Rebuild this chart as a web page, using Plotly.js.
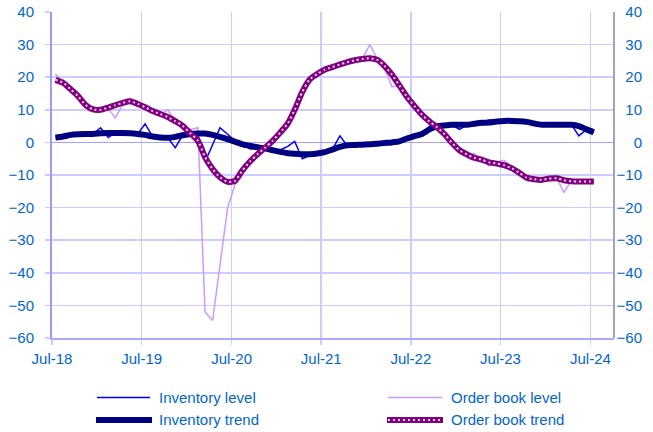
<!DOCTYPE html>
<html>
<head>
<meta charset="utf-8">
<script src="https://cdn.plot.ly/plotly-3.0.1.min.js"></script>
<style>html,body{margin:0;padding:0;background:#fff;}#chart{width:653px;height:432px;}</style>
</head>
<body>
<div id="chart"></div>
<script>
// Monthly observations, Jul-2018 .. Jul-2024 (plotted mid-month)
const startYear = 2018, startMonth = 7, nMonths = 73;
const months = [];
for (let i = 0; i < nMonths; i++) {
  const y = startYear + Math.floor((startMonth - 1 + i) / 12);
  const m = ((startMonth - 1 + i) % 12) + 1;
  months.push(y + '-' + String(m).padStart(2, '0') + '-15');
}

const inventoryLevel = [
  1.5, 1.8, 2.3, 2.5, 2.6, 2.6, 4.5, 1.5, 2.9, 2.9, 2.8, 2.6,
  5.7, 1.8, 1.5, 1.4, -1.6, 2.2, 2.8, 2.5, -6.0, -0.8, 4.5, 2.5,
  0.5, -0.6, -2.0, -1.5, -1.9, -2.4, -2.3, -1.2, 0.3, -5.0, -4.0, -3.4,
  -3.0, -2.2, 2.0, -1.0, -0.8, -0.7, -0.6, -0.4, -0.2, 0.0, 0.3, 1.2,
  1.9, 2.6, 5.0, 4.9, 5.2, 5.4, 4.0, 5.4, 5.7, 6.0, 6.9, 6.4,
  6.6, 6.6, 6.5, 6.3, 5.8, 5.4, 5.4, 5.4, 5.4, 5.4, 2.0, 4.0,
  3.1
];
const inventoryTrend = [
  1.5, 1.8, 2.3, 2.5, 2.6, 2.6, 2.8, 2.9, 2.9, 2.9, 2.8, 2.6,
  2.3, 1.8, 1.5, 1.4, 1.7, 2.2, 2.6, 2.7, 2.7, 2.3, 1.7, 1.0,
  0.2, -0.6, -1.1, -1.5, -1.9, -2.4, -2.9, -3.3, -3.5, -3.6, -3.6, -3.4,
  -3.0, -2.2, -1.4, -0.9, -0.8, -0.7, -0.6, -0.4, -0.2, 0.0, 0.3, 1.2,
  1.9, 2.6, 4.0, 4.9, 5.2, 5.4, 5.4, 5.4, 5.7, 6.0, 6.1, 6.4,
  6.6, 6.6, 6.5, 6.3, 5.8, 5.4, 5.4, 5.4, 5.4, 5.4, 5.0, 4.0,
  3.1
];
const orderBookLevel = [
  21.0, 18.5, 16.5, 13.5, 10.5, 10.0, 10.3, 10.5, 7.5, 11.5, 13.5, 12.0,
  10.8, 9.5, 8.5, 10.0, 6.5, 4.5, 4.0, 4.5, -52.0, -54.6, -37.0, -20.0,
  -13.0, -8.5, -5.8, -3.6, -1.6, 0.5, 3.0, 5.8, 10.0, 15.5, 19.3, 21.0,
  22.3, 23.1, 24.9, 24.2, 25.2, 25.6, 30.0, 25.5, 23.0, 17.0, 17.5, 14.0,
  11.2, 8.5, 6.4, 4.7, 2.5, -0.1, -2.4, -4.0, -3.5, -5.0, -7.2, -6.0,
  -5.5, -7.5, -9.3, -10.8, -11.3, -11.5, -11.0, -11.0, -15.3, -11.8, -11.5, -12.0,
  -12.0
];
const orderBookTrend = [
  19.2, 18.3, 16.3, 14.2, 11.5, 10.1, 10.0, 10.7, 11.4, 12.1, 12.6, 11.8,
  10.8, 9.6, 8.7, 7.8, 6.5, 5.1, 2.8, 0.5, -4.5, -8.2, -10.7, -12.1,
  -11.8, -8.5, -5.8, -3.6, -1.6, 0.5, 3.0, 5.8, 10.0, 15.5, 19.3, 21.0,
  22.3, 23.1, 23.9, 24.6, 25.2, 25.6, 25.8, 25.3, 23.5, 20.8, 17.5, 14.0,
  11.2, 8.5, 6.4, 4.7, 2.5, -0.1, -2.4, -3.7, -4.7, -5.3, -6.1, -6.5,
  -7.0, -7.9, -9.3, -10.8, -11.3, -11.5, -11.1, -11.0, -11.6, -11.9, -12.0, -12.0,
  -12.0
];

const tickDates = ['2018-07-01','2019-07-01','2020-07-01','2021-07-01','2022-07-01','2023-07-01','2024-07-01'];
const tickLabels = ['Jul-18','Jul-19','Jul-20','Jul-21','Jul-22','Jul-23','Jul-24'];
const yTicks = [-60,-50,-40,-30,-20,-10,0,10,20,30,40];

const seriesNames = ['Inventory level','Order book level','Inventory trend','Order book trend'];
const colors = {il:'#0000ff', obl:'#cc99ff', it:'#000080', obt:'#800080', dots:'#e6d2e6'};

const W = 653, H = 432, ML = 52, MR = 5, MT = 12, MB = 94;
const plotRight = 614;
const pw = W - ML - MR, ph = H - MT - MB;
const dom = (plotRight - ML) / pw;
const px = v => (v - ML) / pw;
const py = v => (H - MB - v) / ph;

const font = {family:'"Liberation Sans", Arial, sans-serif', size:15, color:'#0066cc'};

const traces = [
  {x:months, y:inventoryLevel, name:seriesNames[0], type:'scatter', mode:'lines',
   line:{color:colors.il, width:1.5}, showlegend:false},
  {x:months, y:orderBookLevel, name:seriesNames[1], type:'scatter', mode:'lines',
   line:{color:colors.obl, width:1.5}, showlegend:false},
  {x:months, y:inventoryTrend, name:seriesNames[2], type:'scatter', mode:'lines',
   line:{color:colors.it, width:6, shape:'spline', smoothing:0.6}, showlegend:false},
  {x:months, y:orderBookTrend, name:seriesNames[3], type:'scatter', mode:'lines',
   line:{color:colors.obt, width:6, shape:'spline', smoothing:0.6}, showlegend:false},
  {x:months, y:orderBookTrend, type:'scatter', mode:'lines', hoverinfo:'skip',
   line:{color:colors.dots, width:2, dash:'2px,3px', shape:'spline', smoothing:0.6}, showlegend:false},
  {x:months, y:inventoryTrend, yaxis:'y2', type:'scatter', mode:'lines', hoverinfo:'skip',
   line:{color:'rgba(0,0,0,0)', width:0}, showlegend:false}
];

const r1 = py(397.5), r2 = py(420);
const shapes = [
  {type:'line', xref:'paper', yref:'paper', x0:dom, x1:dom, y0:0, y1:1, line:{color:'#a0a0c4', width:2}},
  {type:'line', xref:'paper', yref:'paper', x0:px(97), x1:px(150), y0:r1, y1:r1, line:{color:colors.il, width:1.5}},
  {type:'line', xref:'paper', yref:'paper', x0:px(388), x1:px(442), y0:r1, y1:r1, line:{color:colors.obl, width:1.5}},
  {type:'line', xref:'paper', yref:'paper', x0:px(96), x1:px(152), y0:r2, y1:r2, line:{color:colors.it, width:6}},
  {type:'line', xref:'paper', yref:'paper', x0:px(387), x1:px(443), y0:r2, y1:r2, line:{color:colors.obt, width:6}},
  {type:'line', xref:'paper', yref:'paper', x0:px(388), x1:px(442), y0:r2, y1:r2, line:{color:colors.dots, width:2, dash:'2px,3px'}}
];
const ann = (t, x, y) => ({text:t, xref:'paper', yref:'paper', x:x, y:y, xanchor:'left', yanchor:'middle',
  showarrow:false, font:font, borderpad:0});
const annotations = [
  ann(seriesNames[0], px(158), r1), ann(seriesNames[1], px(450), r1),
  ann(seriesNames[2], px(158), r2), ann(seriesNames[3], px(450), r2)
];

const layout = {
  width:W, height:H,
  margin:{l:ML, r:MR, t:MT, b:MB},
  paper_bgcolor:'#ffffff', plot_bgcolor:'#ffffff',
  font:font,
  showlegend:false,
  xaxis:{type:'date', domain:[0, dom], range:['2018-07-01','2024-10-05'],
    tickmode:'array', tickvals:tickDates, ticktext:tickLabels,
    showgrid:true, gridcolor:'#ccccff', gridwidth:1.5,
    ticks:'outside', ticklen:5, tickcolor:'#ccccff', tickwidth:1.5,
    showline:true, linecolor:'#a8a8ff', linewidth:2, zeroline:false,
    tickfont:font, ticklabelstandoff:1, fixedrange:true},
  yaxis:{range:[-60,40], tickmode:'array', tickvals:yTicks,
    showgrid:true, gridcolor:'#ccccff', gridwidth:1.5,
    zeroline:true, zerolinecolor:'#a0a0ff', zerolinewidth:1.5,
    showline:true, linecolor:'#9999ff', linewidth:2,
    ticks:'outside', ticklen:5, tickcolor:'#ccccff', tickwidth:1.5,
    tickfont:font, ticklabelstandoff:8, fixedrange:true},
  yaxis2:{overlaying:'y', anchor:'free', position:1, side:'left',
    range:[-60,40], tickmode:'array', tickvals:yTicks,
    showgrid:false, zeroline:false, showline:false, ticks:'',
    tickfont:font, ticklabelstandoff:6, fixedrange:true},
  shapes:shapes,
  annotations:annotations
};

Plotly.newPlot('chart', traces, layout, {staticPlot:true, displayModeBar:false});
</script>
</body>
</html>
